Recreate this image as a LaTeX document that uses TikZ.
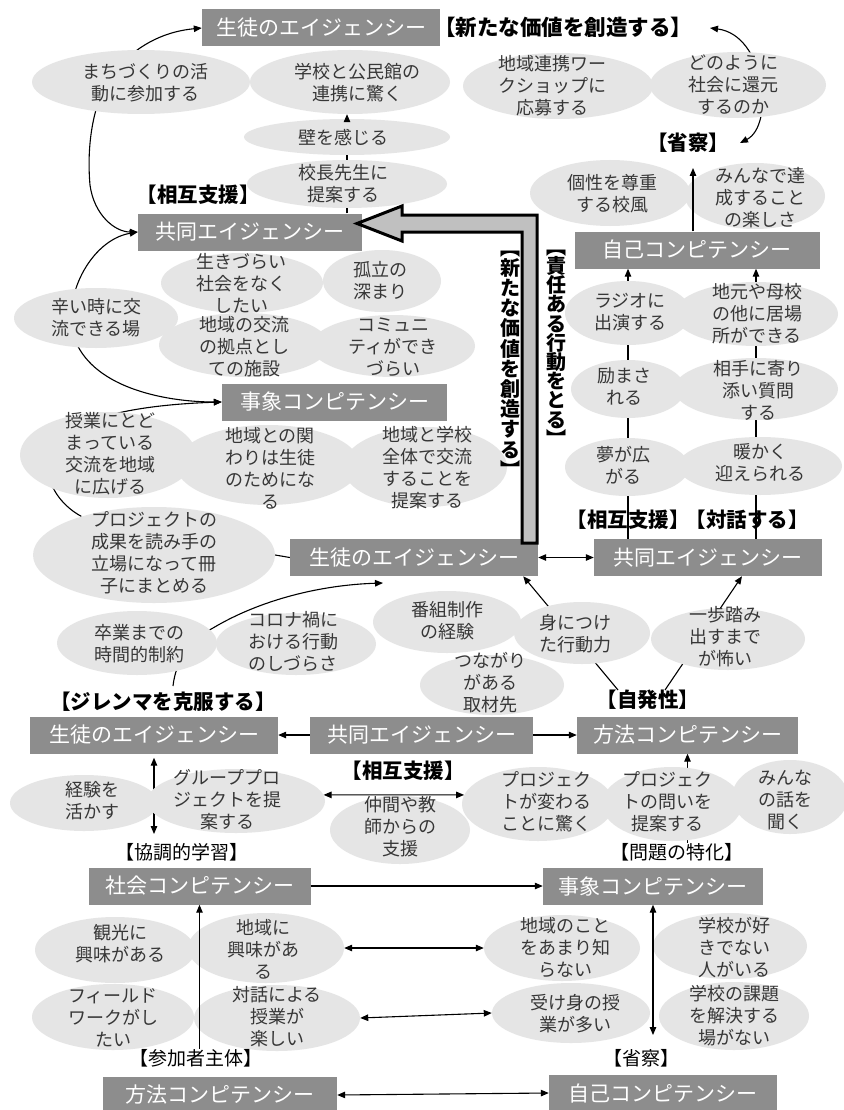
\documentclass[tikz,border=0pt]{standalone}
\usepackage{fontspec}
\setmainfont{Noto Sans CJK JP}
\usetikzlibrary{shapes.geometric,arrows.meta,calc}
\definecolor{boxgray}{RGB}{141,141,141}
\definecolor{ellgray}{RGB}{229,229,229}
\definecolor{txtgray}{RGB}{55,55,55}
\definecolor{arrgray}{RGB}{192,192,192}
\pgfdeclarelayer{back}
\pgfdeclarelayer{bg}
\pgfdeclarelayer{front}
\pgfsetlayers{back,bg,main,front}
\tikzset{
  gbox/.style={fill=boxgray,text=white,font=\fontsize{21}{24}\selectfont,inner sep=0pt,minimum height=37pt},
  ell/.style={ellipse,fill=ellgray,inner sep=0pt},
  etext/.style={text=txtgray,font=\fontsize{18}{22}\selectfont,align=center,inner sep=0pt},
  blab/.style={font=\bfseries\fontsize{20.5}{24}\selectfont,inner sep=0pt},
  rlab/.style={font=\fontsize{19}{23}\selectfont,inner sep=0pt},
  vlab/.style={font=\bfseries\fontsize{20}{20.2}\selectfont,inner sep=0pt,align=center},
  conn/.style={line width=1.1pt,draw=black},
  arr/.style={conn,-{Triangle[length=8pt,width=6.5pt]}},
  arrtwo/.style={conn,{Triangle[length=8pt,width=6.5pt]}-{Triangle[length=8pt,width=6.5pt]}},
}
\newcommand\ellnode[8]{%
  \node[ell,minimum width=#4pt,minimum height=#5pt] (#1) at (#2,#3) {};
  \begin{pgfonlayer}{front}\node[etext] (#1t) at (#6,#7) {#8};\end{pgfonlayer}}
\begin{document}
\begin{tikzpicture}[x=1pt,y=-1pt]
\useasboundingbox (0,0) rectangle (843,1110);
\begin{pgfonlayer}{back}\fill[white] (0,0) rectangle (843,1110);\end{pgfonlayer}

% ---------- boxes ----------
\node[gbox,minimum width=238pt] (stuTop) at (321,28) {生徒のエイジェンシー};
\node[gbox,minimum width=224pt] (kyoTop) at (250,232) {共同エイジェンシー};
\node[gbox,minimum width=245pt] (jikoTop) at (697,250) {自己コンピテンシー};
\node[gbox,minimum width=225pt] (jishoMid) at (334.5,402) {事象コンピテンシー};
\node[gbox,minimum width=248pt] (stuMid) at (414,557.5) {生徒のエイジェンシー};
\node[gbox,minimum width=228pt] (kyoRight) at (708,557.5) {共同エイジェンシー};
\node[gbox,minimum width=248pt] (stuBot) at (154,735) {生徒のエイジェンシー};
\node[gbox,minimum width=223pt] (kyoBot) at (421.5,735) {共同エイジェンシー};
\node[gbox,minimum width=221pt] (hohoBot) at (687.5,735) {方法コンピテンシー};
\node[gbox,minimum width=222pt] (shakai) at (199.5,886) {社会コンピテンシー};
\node[gbox,minimum width=220pt] (jishoBot) at (653,886) {事象コンピテンシー};
\node[gbox,minimum width=234pt,minimum height=36pt] (hohoLow) at (220,1095) {方法コンピテンシー};
\node[gbox,minimum width=228pt,minimum height=36pt] (jikoLow) at (663,1093) {自己コンピテンシー};

% ---------- ellipses ----------
\ellnode{machi}{141}{82}{218}{64}{145}{83}{まちづくりの活\\動に参加する}
\ellnode{gakko}{350}{82}{200}{64}{357}{83}{学校と公民館の\\連携に驚く}
\ellnode{renkei}{558}{86}{190}{66}{552}{86}{地域連携ワー\\クショップに\\応募する}
\ellnode{dono}{738}{85}{176}{66}{733}{85}{どのように\\社会に還元\\するのか}
\ellnode{kabe}{347}{137}{206}{36}{343}{137}{壁を感じる}
\ellnode{kocho}{347}{184}{200}{48}{343}{184}{校長先生に\\提案する}
\ellnode{kosei}{610}{193}{160}{66}{612}{194}{個性を尊重\\する校風}
\ellnode{minna}{755}{196}{140}{66}{760}{198}{みんなで達\\成すること\\の楽しさ}
\ellnode{ikizurai}{242}{283}{162}{60}{241}{283}{生きづらい\\社会をなく\\したい}
\ellnode{koritsu}{382}{281}{118}{62}{380}{281}{孤立の\\深まり}
\ellnode{tsurai}{96}{318}{164}{60}{96}{318}{辛い時に交\\流できる場}
\ellnode{kyoten}{244}{345}{170}{64}{244}{347}{地域の交流\\の拠点とし\\ての施設}
\ellnode{komyu}{393}{346}{164}{62}{393}{347}{コミュニ\\ティができ\\づらい}
\ellnode{jugyo}{108}{455}{176}{86}{110}{454}{授業にとど\\まっている\\交流を地域\\に広げる}
\ellnode{kakawari}{268}{465}{184}{80}{270}{468}{地域との関\\わりは生徒\\のためにな\\る}
\ellnode{zentai}{425}{467}{164}{80}{427}{468}{地域と学校\\全体で交流\\することを\\提案する}
\ellnode{project}{154}{555}{242}{96}{154}{553}{プロジェクトの\\成果を読み手の\\立場になって冊\\子にまとめる}
\ellnode{radio}{628}{313}{126}{64}{630}{312}{ラジオに\\出演する}
\ellnode{jimoto}{756}{314}{164}{64}{757}{314}{地元や母校\\の他に居場\\所ができる}
\ellnode{hage}{628}{389}{114}{58}{624}{386}{励まさ\\れる}
\ellnode{aite}{756}{389}{164}{62}{758}{390}{相手に寄り\\添い質問\\する}
\ellnode{yume}{627}{467}{124}{58}{623}{465}{夢が広\\がる}
\ellnode{atataka}{760}{466}{164}{58}{760}{463}{暖かく\\迎えられる}
\ellnode{sotsu}{137}{643}{160}{64}{139}{644}{卒業までの\\時間的制約}
\ellnode{corona}{296}{644}{160}{62}{293}{642}{コロナ禍に\\おける行動\\のしづらさ}
\ellnode{bangumi}{447}{622}{148}{62}{447}{621}{番組制作\\の経験}
\ellnode{tsunagari}{492}{685}{144}{60}{490}{683}{つながり\\がある\\取材先}
\ellnode{mini}{582}{633}{136}{62}{575}{634}{身につけ\\た行動力}
\ellnode{ippo}{728}{639}{154}{62}{725}{637}{一歩踏み\\出すまで\\が怖い}
\ellnode{keiken}{84}{803}{148}{56}{92}{801}{経験を\\活かす}
\ellnode{group}{236}{801}{178}{64}{227}{800}{グループプロ\\ジェクトを提\\案する}
\ellnode{nakama}{400}{830}{140}{68}{400}{827}{仲間や教\\師からの\\支援}
\ellnode{kawaru}{538}{804}{152}{74}{546}{802}{プロジェク\\トが変わる\\ことに驚く}
\ellnode{toi}{672}{804}{140}{74}{667}{802}{プロジェク\\トの問いを\\提案する}
\ellnode{minnahana}{790}{797}{116}{74}{785}{800}{みんな\\の話を\\聞く}
\ellnode{kanko}{115}{950}{160}{66}{120}{944}{観光に\\興味がある}
\ellnode{chiikini}{266}{948}{156}{70}{263}{949}{地域に\\興味があ\\る}
\ellnode{field}{113}{1017}{162}{66}{113}{1018}{フィールド\\ワークがし\\たい}
\ellnode{taiwa}{277}{1018}{166}{66}{277}{1017}{対話による\\授業が\\楽しい}
\ellnode{shiranai}{562}{948}{156}{66}{565}{948}{地域のこと\\をあまり知\\らない}
\ellnode{sukidenai}{730}{946}{154}{66}{734}{948}{学校が好\\きでない\\人がいる}
\ellnode{ukemi}{571}{1013}{158}{60}{575}{1014}{受け身の授\\業が多い}
\ellnode{kadai}{734}{1016}{150}{68}{734}{1016}{学校の課題\\を解決する\\場がない}

% ---------- labels ----------
\begin{pgfonlayer}{front}
\node[blab,font=\bfseries\fontsize{21.5}{24}\selectfont] (Lnew) at (563,27) {【新たな価値を創造する】};
\node[blab] (Lsei) at (688,143) {【省察】};
\node[blab] (Lsogo1) at (198,195) {【相互支援】};
\node[vlab] (Lv1) at (510,364) {︻\\新\\た\\な\\価\\値\\を\\創\\造\\す\\る\\︼};
\node[vlab,font=\bfseries\fontsize{20}{19.2}\selectfont] (Lv2) at (556,348) {︻\\責\\任\\あ\\る\\行\\動\\を\\と\\る\\︼};
\node[blab] (Lsogo2) at (628,520) {【相互支援】};
\node[blab] (Ltaiwa) at (747,520) {【対話する】};
\node[blab] (Ldil) at (163,702) {【ジレンマを克服する】};
\node[blab] (Ljihatsu) at (648,700) {【自発性】};
\node[blab] (Lsogo3) at (403,771) {【相互支援】};
\node[rlab] (Lkyocho) at (182,852) {【協調的学習】};
\node[rlab] (Lmondai) at (677,852) {【問題の特化】};
\node[rlab] (Lsanka) at (196,1058) {【参加者主体】};
\node[rlab] (Lsei2) at (641,1058) {【省察】};
\end{pgfonlayer}

% ---------- free ends ----------
\coordinate (cNew) at (710,28);
\coordinate (cSei) at (740,143);
\coordinate (cRef) at (693,168);
\coordinate (cDil) at (173,686);
\coordinate (cStu) at (383,583);
\coordinate (cKyo) at (154,834);
\coordinate (cJisho) at (653,1035);

% ---------- hidden connectors (behind ellipses) ----------
\begin{pgfonlayer}{bg}
\draw[arrtwo] (stuTop.west) .. controls (160,32) and (135,48) .. (115,70)
   .. controls (95,95) and (86,140) .. (90,185)
   .. controls (94,215) and (115,232) .. (kyoTop.west);
\draw[arrtwo] (cNew) .. controls (765,35) and (775,125) .. (cSei);
\draw[arrtwo] (kyoTop.west) .. controls (90,240) and (60,300) .. (75,340)
   .. controls (95,390) and (170,402) .. (jishoMid.west);
\draw[arr] (project.152) .. controls (60,505) and (42,480) .. (50,455)
   .. controls (60,420) and (130,405) .. (jishoMid.west);
\draw[arr] (kyoRight.north -| radio.center) -- (jikoTop.south -| radio.center);
\draw[arr] (kyoRight.north -| jimoto.center) -- (jikoTop.south -| jimoto.center);
\draw[arr] (cDil) .. controls (176,660) and (190,640) .. (213,628)
   .. controls (260,600) and (320,585) .. (cStu);
\draw[arr] ($(Ljihatsu.north)+(-30,0)$) -- ($(stuMid.south east)+(-15,0)$);
\draw[arr] ($(Ljihatsu.north)+(17,0)$) -- ($(kyoRight.south)+(34,0)$);
\draw[arrtwo] ($(stuBot.south)+(0,4)$) -- (cKyo);
\draw[arr] (hohoBot.south |- Lmondai.north) -- (hohoBot.south);
\end{pgfonlayer}

% ---------- visible connectors ----------
\draw[conn] (kocho.south |- kyoTop.north) -- (kocho.south);
\draw[conn] (kocho.north) -- (kabe.south);
\draw[arr] (kabe.north) -- (kabe.north |- gakko.south);
\draw[arr] (cRef |- jikoTop.north) -- (cRef);
\draw[conn] (project.east) -- (stuMid.west);
\draw[arrtwo] (stuMid.east) -- (kyoRight.west);
\draw[arr] (kyoBot.west) -- (stuBot.east);
\draw[arr] (kyoBot.east) -- (hohoBot.west);
\draw[arrtwo] (group.4) -- (kawaru.173);
\draw[arr] (shakai.east) -- (jishoBot.west);
\draw[arr] (shakai.south |- Lsanka.north) -- (shakai.south);
\draw[arrtwo] (jishoBot.south) -- (cJisho);
\draw[arrtwo] (chiikini.east) -- (shiranai.west);
\draw[arrtwo] (taiwa.east) -- (ukemi.west);
\draw[arrtwo] (hohoLow.east) -- (jikoLow.west);

% ---------- big hollow arrow ----------
\draw[line width=3pt,fill=arrgray,line join=miter]
  (522,543) -- (537,543) -- (537,215) -- (402,215) -- (402,206) -- (357,223.5)
  -- (402,241) -- (402,232) -- (522,232) -- cycle;
\end{tikzpicture}
\end{document}
